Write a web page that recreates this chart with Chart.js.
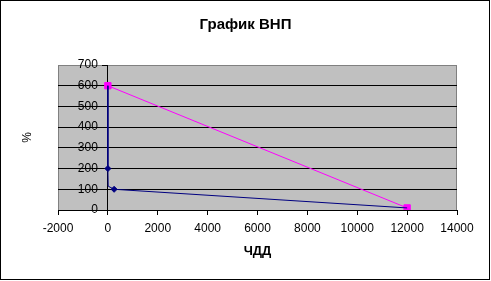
<!DOCTYPE html>
<html><head><meta charset="utf-8">
<script src="https://cdn.jsdelivr.net/npm/chart.js@4/dist/chart.umd.min.js"></script>
<style>html,body{margin:0;padding:0;background:#fff}canvas{display:block}</style>
</head><body>
<canvas id="c" width="491" height="281"></canvas>
<script>
const chartTitle = 'График ВНП';
const xAxisTitle = 'ЧДД';
const yAxisTitle = '%';
const xTicks = [-2000, 0, 2000, 4000, 6000, 8000, 10000, 12000, 14000];
const yTicks = [0, 100, 200, 300, 400, 500, 600, 700];
const blueX = [0, 0, 0, 12, 250, 12000];
const blueY = [600, 250, 200, 115, 100, 10];
const blueMarkers = [0, 0, 3, 0, 3, 0];
const magentaX = [0, 12000];
const magentaY = [600, 10];

const toPts = (xs, ys) => xs.map((x, i) => ({x: x, y: ys[i]}));
const FONT = "'Liberation Sans', Arial, sans-serif";
const Y_LABEL_GAP = 10;

const frame = {
  id: 'frame',
  beforeDraw(chart) {
    const {ctx, chartArea: a} = chart;
    ctx.save();
    ctx.fillStyle = '#fff';
    ctx.fillRect(0, 0, chart.width, chart.height);
    ctx.strokeStyle = '#000';
    ctx.lineWidth = 1;
    ctx.strokeRect(0.5, 0.5, chart.width - 2, chart.height - 2);
    ctx.fillStyle = '#c0c0c0';
    ctx.fillRect(a.left, a.top, a.right - a.left, a.bottom - a.top);
    ctx.strokeStyle = '#808080';
    ctx.strokeRect(a.left + 0.5, a.top + 0.5, a.right - a.left - 1, a.bottom - a.top);
    ctx.restore();
  }
};

function shiftYLabels(s) {
  if (s._shiftWrapped) return;
  s._shiftWrapped = true;
  const orig = s._computeLabelItems.bind(s);
  s._computeLabelItems = function (ca) {
    const items = orig(ca);
    items.forEach(it => {
      if (it.options && it.options.translation) it.options.translation[0] -= Y_LABEL_GAP;
    });
    return items;
  };
}

new Chart(document.getElementById('c'), {
  type: 'scatter',
  data: {
    datasets: [
      {
        data: toPts(blueX, blueY),
        showLine: true,
        borderColor: '#000080',
        backgroundColor: '#000080',
        borderWidth: 1,
        pointStyle: 'rectRot',
        pointRadius: blueMarkers,
        pointBorderWidth: 1,
        tension: 0
      },
      {
        data: toPts(magentaX, magentaY),
        showLine: true,
        borderColor: '#ff00ff',
        backgroundColor: '#ff00ff',
        borderWidth: 1,
        pointStyle: 'rect',
        pointRadius: 4.5,
        pointBorderWidth: 1,
        tension: 0
      }
    ]
  },
  options: {
    responsive: false,
    animation: false,
    devicePixelRatio: 1,
    layout: {padding: 0},
    plugins: {
      legend: {display: false},
      tooltip: {enabled: false},
      title: {
        display: true,
        text: chartTitle,
        color: '#000',
        font: {family: FONT, size: 15, weight: 'bold'},
        padding: {top: 16, bottom: 31}
      }
    },
    scales: {
      x: {
        type: 'linear',
        position: 'bottom',
        min: xTicks[0],
        max: xTicks[xTicks.length - 1],
        afterBuildTicks: s => { s.ticks = xTicks.map(v => ({value: v})); },
        afterFit: s => { s.height = 71; },
        grid: {display: true, drawOnChartArea: false, drawTicks: true, tickLength: 5, color: '#000', tickColor: '#000'},
        border: {display: true, color: '#000', width: 1},
        ticks: {color: '#000', font: {family: FONT, size: 12}, padding: 6, maxRotation: 0, autoSkip: false,
                callback: v => String(v)},
        title: {display: true, text: xAxisTitle, color: '#000', font: {family: FONT, size: 13, weight: 'bold'}, padding: {top: 0, bottom: 22}}
      },
      y: {
        type: 'linear',
        position: {x: 0},
        min: yTicks[0],
        max: yTicks[yTicks.length - 1],
        afterBuildTicks: s => { s.ticks = yTicks.map(v => ({value: v})); },
        afterUpdate: shiftYLabels,
        grid: {
          display: true, drawOnChartArea: true, drawTicks: true, tickLength: 5,
          color: c => (c.tick && c.tick.value === yTicks[yTicks.length - 1]) ? 'rgba(0,0,0,0)' : '#000',
          tickColor: '#000'
        },
        border: {display: true, color: '#000', width: 1},
        ticks: {color: '#000', font: {family: FONT, size: 12}, padding: 6, callback: v => String(v)}
      },
      yTitle: {
        type: 'linear',
        position: 'left',
        display: true,
        afterFit: s => { s.width = 58; },
        grid: {display: false, drawTicks: false},
        border: {display: false},
        ticks: {display: false},
        title: {display: true, text: yAxisTitle, color: '#000', font: {family: FONT, size: 12}, padding: {top: 20, bottom: 0}}
      },
      yRight: {
        type: 'linear',
        position: 'right',
        display: true,
        afterFit: s => { s.width = 34; },
        grid: {display: false, drawTicks: false},
        border: {display: false},
        ticks: {display: false}
      }
    }
  },
  plugins: [frame]
});
</script>
</body></html>
